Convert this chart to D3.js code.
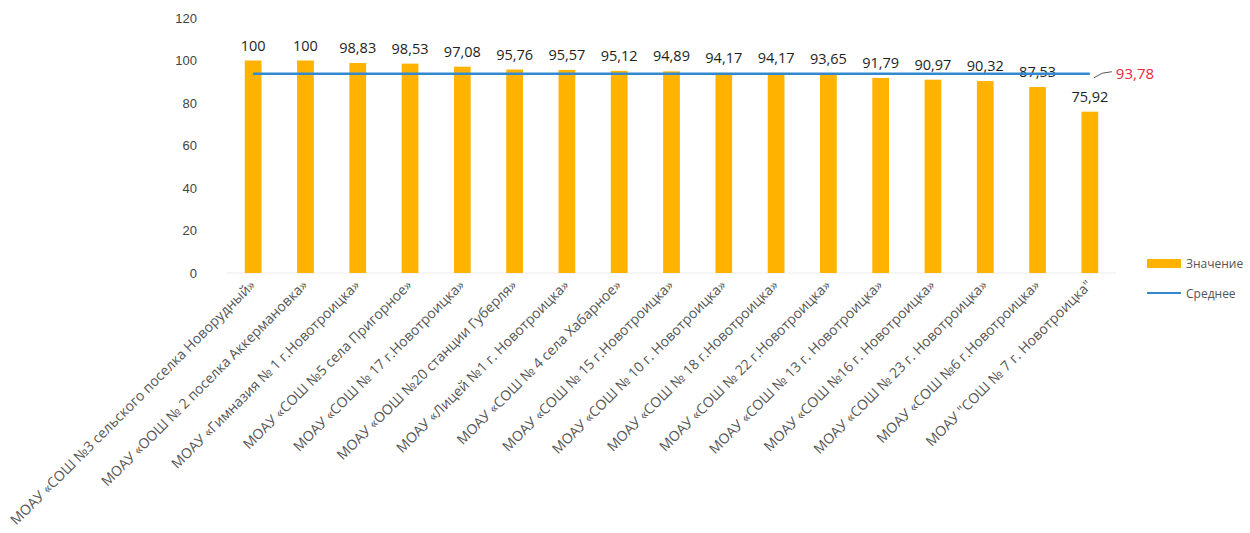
<!DOCTYPE html>
<html lang="ru">
<head>
  <meta charset="UTF-8">
  <title>Значение и среднее</title>
  <script src="https://d3js.org/d3.v7.min.js"></script>
  <style>
    body { margin: 0; background: #fff; font-family: "Open Sans", "DejaVu Sans", sans-serif; }
    svg { display: block; }
    .tick text { fill: #444; font-size: 13px; }
  </style>
</head>
<body>
  <svg id="chart"></svg>
  <script>
    const schools = [
      "МОАУ «СОШ №3 сельского поселка Новорудный»",
      "МОАУ «ООШ № 2 поселка Аккермановка»",
      "МОАУ «Гимназия № 1 г.Новотроицка»",
      "МОАУ «СОШ №5 села Пригорное»",
      "МОАУ «СОШ № 17 г.Новотроицка»",
      "МОАУ «ООШ №20 станции Губерля»",
      "МОАУ «Лицей №1 г. Новотроицка»",
      "МОАУ «СОШ № 4 села Хабарное»",
      "МОАУ «СОШ № 15 г.Новотроицка»",
      "МОАУ «СОШ № 10 г. Новотроицка»",
      "МОАУ «СОШ № 18 г.Новотроицка»",
      "МОАУ «СОШ № 22 г.Новотроицка»",
      "МОАУ «СОШ № 13 г. Новотроицка»",
      "МОАУ «СОШ №16 г. Новотроицка»",
      "МОАУ «СОШ № 23 г. Новотроицка»",
      "МОАУ «СОШ №6 г.Новотроицка»",
      "МОАУ \"СОШ № 7 г. Новотроицка\""
    ];
    const values = [100, 100, 98.83, 98.53, 97.08, 95.76, 95.57, 95.12, 94.89, 94.17, 94.17, 93.65, 91.79, 90.97, 90.32, 87.53, 75.92];
    const average = 93.78;
    const yTicks = [0, 20, 40, 60, 80, 100, 120];
    const seriesNames = ["Значение", "Среднее"];

    const width = 1250, height = 533;
    const barColor = "#FFB300";
    const lineColor = "#3389d0";
    const fmt = v => String(v).replace(".", ",");

    const svg = d3.select("#chart").attr("width", width).attr("height", height);

    const x = d3.scaleBand().domain(schools).range([227, 1116]).paddingInner(0.68).paddingOuter(0.34);
    const y = d3.scaleLinear().domain([0, 120]).range([273, 18]);

    // y axis (labels only)
    const yAxis = svg.append("g")
      .attr("transform", "translate(205,0)")
      .call(d3.axisLeft(y).tickValues(yTicks).tickSize(0).tickPadding(8));
    yAxis.select(".domain").remove();

    // baseline
    svg.append("line")
      .attr("x1", x.range()[0]).attr("x2", x.range()[1])
      .attr("y1", y(0)).attr("y2", y(0))
      .attr("stroke", "#ececec");

    // bars
    svg.append("g").selectAll("rect")
      .data(values)
      .join("rect")
      .attr("x", (d, i) => x(schools[i]))
      .attr("width", x.bandwidth())
      .attr("y", d => y(d))
      .attr("height", d => y(0) - y(d))
      .attr("fill", barColor);

    // value labels
    svg.append("g").selectAll("text")
      .data(values)
      .join("text")
      .attr("x", (d, i) => x(schools[i]) + x.bandwidth() / 2)
      .attr("y", d => y(d) - 10)
      .attr("text-anchor", "middle")
      .attr("font-size", 14.5)
      .attr("fill", "#1e1e1e")
      .text(d => fmt(d));

    // average line
    const cx = i => x(schools[i]) + x.bandwidth() / 2;
    const last = schools.length - 1;
    svg.append("line")
      .attr("x1", cx(0)).attr("x2", cx(last))
      .attr("y1", y(average)).attr("y2", y(average))
      .attr("stroke", lineColor).attr("stroke-width", 2.5);

    // leader + average label
    svg.append("path")
      .attr("d", `M${cx(last) + 4},${y(average) + 4} Q${cx(last) + 12},${y(average) - 2} ${cx(last) + 22},${y(average) - 2}`)
      .attr("fill", "none").attr("stroke", "#555").attr("stroke-width", 1);
    svg.append("text")
      .attr("x", cx(last) + 26)
      .attr("y", y(average) + 5)
      .attr("font-size", 15)
      .attr("fill", "#e8283c")
      .text(fmt(average));

    // category labels
    svg.append("g").selectAll("text")
      .data(schools)
      .join("text")
      .attr("transform", d => `translate(${x(d) + x.bandwidth() / 2 + 3},${y(0) + 13}) rotate(-45)`)
      .attr("text-anchor", "end")
      .attr("font-size", 14)
      .attr("fill", "#555")
      .text(d => d);

    // legend
    const legend = svg.append("g").attr("transform", "translate(1147,263)");
    legend.append("rect").attr("x", 0).attr("y", -4).attr("width", 34).attr("height", 9).attr("fill", barColor);
    legend.append("text").attr("x", 39).attr("y", 5).attr("font-size", 12).attr("fill", "#555").text(seriesNames[0]);
    legend.append("line").attr("x1", 0).attr("x2", 34).attr("y1", 30).attr("y2", 30).attr("stroke", lineColor).attr("stroke-width", 2);
    legend.append("text").attr("x", 39).attr("y", 35).attr("font-size", 12).attr("fill", "#555").text(seriesNames[1]);
  </script>
</body>
</html>
